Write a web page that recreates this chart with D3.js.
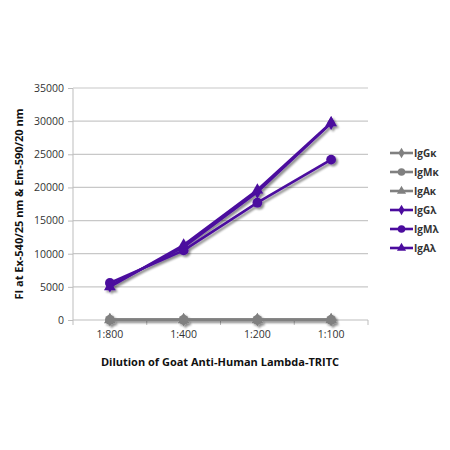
<!DOCTYPE html>
<html><head><meta charset="utf-8">
<script src="https://cdn.jsdelivr.net/npm/d3@7"></script>
<style>body{margin:0;background:#fff}</style>
</head><body>
<svg id="c" width="450" height="450"></svg>
<script>
const categories = ["1:800","1:400","1:200","1:100"];
const seriesNames = ["IgGκ","IgMκ","IgAκ","IgGλ","IgMλ","IgAλ"];
const IgGk = [50, 50, 50, 50];
const IgMk = [30, 30, 30, 30];
const IgAk = [40, 40, 40, 40];
const IgGl = [5200, 11000, 19300, 29700];
const IgMl = [5600, 10500, 17700, 24200];
const IgAl = [5000, 11300, 19600, 29750];
const yTicks = [0,5000,10000,15000,20000,25000,30000,35000];
const seriesValues = [IgGk, IgMk, IgAk, IgGl, IgMl, IgAl];
const seriesColors = ["#808080","#808080","#808080","#4B0C9E","#4B0C9E","#4B0C9E"];
const seriesShapes = ["diamond","circle","triangle","diamond","circle","triangle"];

(function(){
const svg = d3.select("#c");
const L = 73, R = 368, T = 88, B = 320;
const x = d3.scaleBand().domain(categories).range([L, R]);
const y = d3.scaleLinear().domain([0, 35000]).range([B, T]);
const font = "'Open Sans', 'Liberation Sans', sans-serif";

const defs = svg.append("defs");
const f = defs.append("filter").attr("id","sh").attr("x","-50%").attr("y","-50%").attr("width","200%").attr("height","200%");
f.append("feGaussianBlur").attr("in","SourceAlpha").attr("stdDeviation",1.2).attr("result","b");
f.append("feOffset").attr("in","b").attr("dx",1.5).attr("dy",1.5).attr("result","o");
f.append("feComponentTransfer").attr("in","o").attr("result","o2").append("feFuncA").attr("type","linear").attr("slope",0.45);
const m = f.append("feMerge"); m.append("feMergeNode").attr("in","o2"); m.append("feMergeNode").attr("in","SourceGraphic");

svg.append("g").selectAll("line").data(yTicks.filter(d=>d>0)).join("line")
  .attr("x1", L).attr("x2", R).attr("y1", d=>y(d)).attr("y2", d=>y(d))
  .attr("stroke","#c8c8c8").attr("stroke-width",1.2);

const ya = svg.append("g").attr("transform",`translate(${L},0)`)
  .call(d3.axisLeft(y).tickValues(yTicks).tickSize(5).tickPadding(4).tickFormat(d3.format("d")));
ya.select(".domain").attr("stroke","#bdbdbd").attr("d",`M-5,${T+0.5}H0V${B}`);
ya.selectAll(".tick line").attr("stroke","#bdbdbd");
ya.selectAll("text").attr("font-family",font).attr("font-size",10.5).attr("fill","#333");

const xa = svg.append("g").attr("transform",`translate(0,${B})`)
  .call(d3.axisBottom(x).tickSize(0).tickPadding(11));
xa.select(".domain").attr("stroke","#bdbdbd").attr("stroke-width",1.2).attr("d",`M${L},0H${R}`);
xa.selectAll("text").attr("font-family",font).attr("font-size",10.5).attr("fill","#333");
svg.append("g").selectAll("line").data(d3.range(categories.length+1)).join("line")
  .attr("x1", i=>L + i*x.step()).attr("x2", i=>L + i*x.step())
  .attr("y1", B).attr("y2", B+5).attr("stroke","#bdbdbd");

svg.append("text").attr("x",220).attr("y",366).attr("text-anchor","middle")
  .attr("font-family",font).attr("font-weight","bold").attr("font-size",11).attr("fill","#111")
  .text("Dilution of Goat Anti-Human Lambda-TRITC");
svg.append("text").attr("transform",`translate(23,204) rotate(-90)`).attr("text-anchor","middle")
  .attr("font-family",font).attr("font-weight","bold").attr("font-size",11).attr("fill","#111")
  .text("FI at Ex-540/25 nm & Em-590/20 nm");

function sym(shape, size){
  const t = shape==="diamond"?d3.symbolDiamond:shape==="circle"?d3.symbolCircle:d3.symbolTriangle;
  return d3.symbol().type(t).size(size)();
}
const sizes = {diamond:55, circle:75, triangle:60};

const line = d3.line().x((d,i)=>x(categories[i])+x.bandwidth()/2).y(d=>y(d));
const plot = svg.append("g").attr("filter","url(#sh)");
seriesValues.forEach((vals, s)=>{
  const g = plot.append("g");
  g.append("path").datum(vals).attr("d", line).attr("fill","none")
    .attr("stroke", seriesColors[s]).attr("stroke-width",2.6);
  g.selectAll("path.m").data(vals).join("path").attr("class","m")
    .attr("transform",(d,i)=>`translate(${x(categories[i])+x.bandwidth()/2},${y(d)})`)
    .attr("d", sym(seriesShapes[s], sizes[seriesShapes[s]])).attr("fill", seriesColors[s]);
});

const lg = svg.append("g");
seriesNames.forEach((n, s)=>{
  const yy = 153 + s*19;
  const g = lg.append("g").attr("transform",`translate(0,${yy})`);
  g.append("line").attr("x1",390).attr("x2",413).attr("y1",0).attr("y2",0)
    .attr("stroke",seriesColors[s]).attr("stroke-width",2.6);
  g.append("path").attr("transform","translate(401.5,0)")
    .attr("d", sym(seriesShapes[s], sizes[seriesShapes[s]]*0.6)).attr("fill",seriesColors[s]);
  g.append("text").attr("x",414).attr("y",4).attr("font-family",font).attr("font-weight","bold")
    .attr("font-size",10).attr("fill","#333").text(n);
});
})();
</script>
</body></html>
